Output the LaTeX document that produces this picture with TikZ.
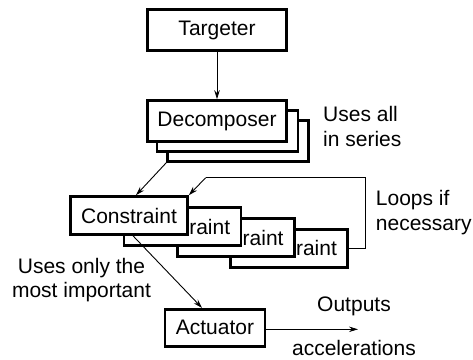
\documentclass[tikz,border=0pt]{standalone}
\usepackage{fontspec}
\setmainfont{Liberation Sans}
\usetikzlibrary{arrows.meta}
\begin{document}
\begin{tikzpicture}[x=1pt,y=-1pt,
  boxnode/.style={draw,line width=2.6pt,fill=white,inner sep=0pt,font=\fontsize{21}{25}\selectfont},
  txt/.style={inner sep=0pt,font=\fontsize{21}{25}\selectfont},
  conn/.style={line width=0.9pt,-{Stealth[length=9pt,width=5.5pt]}},
  plainline/.style={line width=0.9pt}]
\useasboundingbox (0,0) rectangle (473,359);
% Targeter
\node[boxnode,minimum width=139pt,minimum height=41pt] (t) at (217,30) {Targeter};
% Decomposer stack
\node[boxnode,minimum width=141pt,minimum height=41pt] (d3) at (238,141) {};
\node[boxnode,minimum width=141pt,minimum height=41pt] (d2) at (227.5,131) {};
\node[boxnode,minimum width=139pt,minimum height=41pt] (d1) at (217,121) {Decomposer};
% Constraint stack (back boxes show only the part of the word left uncovered)
\node[boxnode,minimum width=117pt,minimum height=38pt] (c4) at (289,248.3) {\phantom{Const}raint};
\node[boxnode,minimum width=117pt,minimum height=38pt] (c3) at (235.7,237.7) {\phantom{Const}raint};
\node[boxnode,minimum width=117pt,minimum height=38pt] (c2) at (182.3,226.7) {\phantom{Const}raint};
\node[boxnode,minimum width=117pt,minimum height=38pt] (c1) at (129,215.5) {Constraint};
% Actuator
\node[boxnode,minimum width=100pt,minimum height=37pt] (a) at (215,327.7) {Actuator};
% labels
\node[txt,anchor=west,align=left] (l1) at (323,126) {Uses all\\in series};
\node[txt,anchor=west,align=left] (l2) at (375.7,212.5) {Loops if\\necessary};
\node[txt,align=center,font=\fontsize{21}{23.5}\selectfont] (l3) at (81.5,280) {Uses only the\\most important};
\node[txt] (l4) at (354,306.7) {Outputs};
\node[txt] (l5) at (354,348) {accelerations};
% connectors
\draw[conn] (t.south) -- (d1.north);
\draw[conn] (d3.south west) -- ([xshift=7pt]c1.north);
\coordinate (lp1) at (365.7,248.3);
\coordinate (lp2) at (365.7,177.7);
\coordinate (lp3) at (205.7,177.7);
\draw[plainline] (c4.east) -- (lp1) -- (lp2) -- (lp3);
\draw[conn] (lp3) -- (c1.north east);
\draw[conn] ([xshift=4pt]c1.south) -- ([xshift=-13pt]a.north);
\coordinate (out) at (358,329.3);
\draw[conn] (a.east |- out) -- (out);
\end{tikzpicture}
\end{document}
